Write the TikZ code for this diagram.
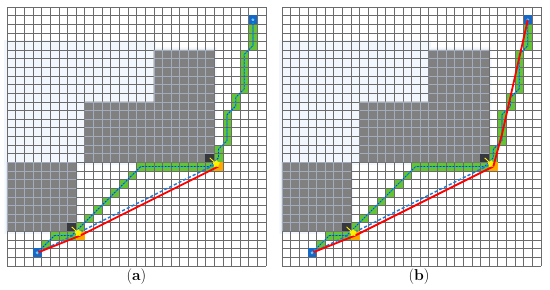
\documentclass[tikz,border=0pt]{standalone}
\usepackage{tikz}
\usetikzlibrary{shapes.geometric, arrows.meta}
\usepackage{xcolor}
\definecolor{cellgreen}{RGB}{100,196,50}
\definecolor{cornerorange}{RGB}{255,168,0}
\definecolor{cornerdark}{RGB}{55,56,62}
\definecolor{blockgray}{RGB}{128,128,128}
\definecolor{blockline}{RGB}{162,172,188}
\definecolor{hazeblue}{RGB}{242,247,253}
\definecolor{endblue}{RGB}{22,104,200}
\definecolor{navy}{RGB}{32,60,150}
\definecolor{losblue}{RGB}{30,122,214}

\begin{document}
\begin{tikzpicture}[
    x=0.3cm, y=0.3cm,
    gridline/.style={draw=black!58, line width=0.35pt, step=0.3cm},
    blockgrid/.style={draw=blockline, line width=0.35pt, step=0.3cm},
    block/.style={fill=blockgray},
    haze/.style={fill=hazeblue},
    pathcell/.style={fill=cellgreen},
    cellbox/.style={rectangle, minimum size=0.3cm, inner sep=0pt},
    orangecell/.style={cellbox, fill=cornerorange},
    darkcell/.style={cellbox, fill=cornerdark},
    endpoint/.style={cellbox, fill=endblue},
    navyline/.style={draw=navy, line width=0.75pt},
    cyanline/.style={draw=cyan, line width=1.2pt, dash pattern=on 1.6pt off 1.6pt},
    losline/.style={draw=losblue, line width=1.4pt, dash pattern=on 3.2pt off 2pt},
    redline/.style={draw=red, line width=1.8pt, line join=round},
    yellowarrow/.style={draw=yellow, line width=0.9pt, -{Stealth[length=2.5pt, width=3pt]}},
    tipstar/.style={star, star points=5, fill=yellow, minimum size=0.27cm, inner sep=0pt},
    caption/.style={font=\fontsize{15.5}{18}\selectfont}
]
\useasboundingbox (-0.81,-2.70) rectangle (62.92,30.79);
\foreach \off/\lab/\capx in {0/a/15, 31.85/b/15.9}{
\begin{scope}[shift={(\off,0)}]
\fill[haze] (-0.3,11.7) rectangle (17.3,26.2);
\fill[haze] (-0.3,3.7) rectangle (8.3,12.3) (8.7,11.7) rectangle (24.3,19.3) (16.7,18.7) rectangle (24.3,25.3);
\foreach \cx/\cy in {4/2, 5/3, 6/3, 7/3, 8/4, 9/5, 10/6, 11/7, 12/8, 13/9, 14/10, 15/11,
    16/11, 17/11, 18/11, 19/11, 20/11, 21/11, 22/11, 23/11, 24/12, 24/13,
    25/14, 25/15, 25/16, 25/17, 26/18, 26/19, 27/20, 27/21, 27/22, 27/23, 27/24,
    28/25, 28/26, 28/27}
  \fill[pathcell] (\cx,\cy) rectangle ++(1,1);
\draw[gridline] (0,0) grid (30,30);
\fill[block] (0,4) rectangle (8,12) (9,12) rectangle (24,19) (17,19) rectangle (24,25);
\begin{scope}
\clip (0,4) rectangle (8,12) (9,12) rectangle (24,19) (17,19) rectangle (24,25);
\draw[blockgrid] (0,0) grid (30,30);
\end{scope}
\node[darkcell] (\lab-d1) at (7.5,4.5) {};
\node[darkcell] (\lab-d2) at (23.5,12.5) {};
\node[orangecell] (\lab-o1) at (8.5,3.5) {};
\node[orangecell] (\lab-o2) at (24.5,11.5) {};
\node[endpoint] (\lab-start) at (3.5,1.5) {};
\node[endpoint] (\lab-goal) at (28.5,28.5) {};
\coordinate (\lab-y1) at (8.25,3.8);
\coordinate (\lab-y2) at (24.25,11.8);
\draw[navyline] (\lab-start.center) -- (5.5,3.5) -- (7.5,3.5) -- (15.5,11.5) -- (23.5,11.5) -- (24.5,12.5)
    -- (24.5,13.5) -- (25.5,14.5) -- (25.5,17.5) -- (26.5,18.5) -- (26.5,19.5) -- (27.5,20.5)
    -- (27.5,24.5) -- (28.5,25.5) -- (\lab-goal.center);
\draw[cyanline] (\lab-start.center) -- (5.5,3.5) -- (7.5,3.5) -- (15.5,11.5) -- (23.5,11.5) -- (24.5,12.5)
    -- (24.5,13.5) -- (25.5,14.5) -- (25.5,17.5) -- (26.5,18.5) -- (26.5,19.5) -- (27.5,20.5)
    -- (27.5,24.5) -- (28.5,25.5) -- (\lab-goal.center);
\draw[losline] (\lab-start.center) -- (\lab-y1) -- (\lab-y2);
\draw[redline] (\lab-start.center) -- (\lab-o1.center) -- (\lab-o2.center);
\draw[yellowarrow] (\lab-d1.center) -- (\lab-y1);
\draw[yellowarrow] (\lab-d2.center) -- (\lab-y2);
\node[tipstar] at (\lab-y1) {};
\node[tipstar] at (\lab-y2) {};
\fill[cyan!60] (\lab-start) circle (0.18);
\fill[cyan!60] (\lab-goal) circle (0.18);
\node[caption] (\lab-cap) at (\capx,-1.3) {(\textbf{\lab})};
\end{scope}
}
\coordinate (b-r1) at (31.85+25.5,15.2);
\draw[redline] (b-o2.center) -- (b-r1) -- (b-goal.center);
\end{tikzpicture}
\end{document}
